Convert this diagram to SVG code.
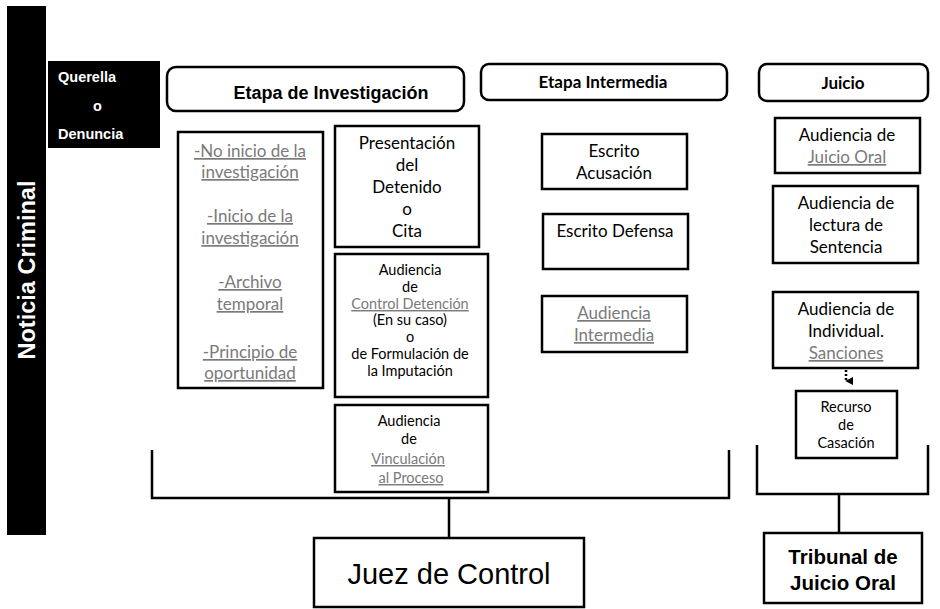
<svg xmlns="http://www.w3.org/2000/svg" width="940" height="609" viewBox="0 0 940 609">
<style>
.box{fill:#fff;stroke:#000;stroke-width:2.5}
.hdr{fill:#fff;stroke:#000;stroke-width:2.5}
.blk{fill:#000}
.t{font-family:Lato,"Open Sans","Liberation Sans",sans-serif;font-size:17px;fill:#000;text-anchor:middle}
.s{font-size:14.5px}
.g{fill:#7a7a7a;text-decoration:underline}
.b{font-family:"Liberation Sans",Arial,sans-serif;font-weight:bold;fill:#000;text-anchor:middle}
.w{fill:#fff;text-anchor:start}
.hb{font-family:Lato,"Open Sans","Liberation Sans",sans-serif;font-weight:bold;font-size:17px;fill:#000;text-anchor:middle}
.c{fill:none;stroke:#000;stroke-width:2.5}
</style>
<defs>
<marker id="ah" viewBox="0 0 10 10" refX="5" refY="9" markerWidth="8" markerHeight="8" markerUnits="userSpaceOnUse" orient="auto-start-reverse">
<path d="M0,0 L10,0 L5,10 Z" fill="#000"/>
</marker>
</defs>
<rect width="940" height="609" fill="#fff"/>

<g id="noticia-criminal">
<rect class="blk" x="7" y="6" width="39" height="529"/>
<text class="b" x="26" y="270" font-size="23.5" style="fill:#fff" transform="rotate(-90 26 270)" dy="8.5">Noticia Criminal</text>
</g>

<g id="querella">
<rect class="blk" x="48" y="61" width="112" height="87"/>
<text class="b w" x="58" y="82" font-size="14.5">Querella</text>
<text class="b w" x="93" y="111" font-size="14.5">o</text>
<text class="b w" x="58" y="139" font-size="14.5">Denuncia</text>
</g>

<g id="etapa-investigacion">
<rect class="hdr" x="167" y="67" width="297" height="44" rx="9"/>
<text class="b" x="331" y="99" font-size="18">Etapa de Investigación</text>
</g>

<g id="etapa-intermedia">
<rect class="hdr" x="481" y="64" width="246" height="36" rx="8"/>
<text class="hb" x="603" y="88">Etapa Intermedia</text>
</g>

<g id="juicio">
<rect class="hdr" x="759" y="64" width="169" height="37" rx="8"/>
<text class="hb" x="843" y="89">Juicio</text>
</g>

<g id="opciones">
<rect class="box" x="178" y="132" width="145" height="256"/>
<text class="t g" x="250" y="157">-No inicio de la</text>
<text class="t g" x="250" y="178">investigación</text>
<text class="t g" x="250" y="222">-Inicio de la</text>
<text class="t g" x="250" y="244">investigación</text>
<text class="t g" x="250" y="288">-Archivo</text>
<text class="t g" x="250" y="310">temporal</text>
<text class="t g" x="250" y="358">-Principio de</text>
<text class="t g" x="250" y="379">oportunidad</text>
</g>

<g id="presentacion">
<rect class="box" x="335" y="126" width="144" height="121"/>
<text class="t" x="407" y="149">Presentación</text>
<text class="t" x="407" y="171">del</text>
<text class="t" x="407" y="193">Detenido</text>
<text class="t" x="407" y="215">o</text>
<text class="t" x="407" y="237">Cita</text>
</g>

<g id="audiencia-control">
<rect class="box" x="335" y="254" width="153" height="143"/>
<text class="t s" x="410" y="275">Audiencia</text>
<text class="t s" x="410" y="292">de</text>
<text class="t s g" x="410" y="309">Control Detención</text>
<text class="t s" x="410" y="325">(En su caso)</text>
<text class="t s" x="410" y="342">o</text>
<text class="t s" x="410" y="359">de Formulación de</text>
<text class="t s" x="410" y="376">la Imputación</text>
</g>

<g id="audiencia-vinculacion">
<rect class="box" x="335" y="405" width="153" height="87"/>
<text class="t s" x="409" y="426">Audiencia</text>
<text class="t s" x="409" y="444">de</text>
<text class="t s g" x="408" y="464">Vinculación</text>
<text class="t s g" x="411" y="483">al Proceso</text>
</g>

<g id="escrito-acusacion">
<rect class="box" x="542" y="134" width="145" height="55"/>
<text class="t" x="614" y="157">Escrito</text>
<text class="t" x="614" y="179">Acusación</text>
</g>

<g id="escrito-defensa">
<rect class="box" x="543" y="214" width="145" height="55"/>
<text class="t" x="615" y="237">Escrito Defensa</text>
</g>

<g id="audiencia-intermedia">
<rect class="box" x="542" y="296" width="145" height="56"/>
<text class="t g" x="614" y="319">Audiencia</text>
<text class="t g" x="614" y="341">Intermedia</text>
</g>

<g id="audiencia-juicio-oral">
<rect class="box" x="775" y="118" width="145" height="55"/>
<text class="t" x="847" y="141">Audiencia de</text>
<text class="t g" x="847" y="163">Juicio Oral</text>
</g>

<g id="audiencia-sentencia">
<rect class="box" x="773" y="186" width="145" height="77"/>
<text class="t" x="846" y="209">Audiencia de</text>
<text class="t" x="846" y="231">lectura de</text>
<text class="t" x="846" y="253">Sentencia</text>
</g>

<g id="audiencia-sanciones">
<rect class="box" x="773" y="292" width="145" height="76"/>
<text class="t" x="846" y="315">Audiencia de</text>
<text class="t" x="846" y="337">Individual.</text>
<text class="t g" x="846" y="359">Sanciones</text>
</g>

<g id="recurso-casacion">
<rect class="box" x="796" y="391" width="101" height="67"/>
<text class="t s" x="846" y="412">Recurso</text>
<text class="t s" x="846" y="430">de</text>
<text class="t s" x="846" y="448">Casación</text>
</g>

<g id="juez-control">
<rect class="box" x="314" y="538" width="270" height="69"/>
<text x="449" y="584" font-family="Liberation Sans,Arial,sans-serif" font-size="29" text-anchor="middle" fill="#000">Juez de Control</text>
</g>

<g id="tribunal-juicio-oral">
<rect class="box" x="764" y="533" width="158" height="70"/>
<text class="b" x="843" y="564" font-size="20.5">Tribunal de</text>
<text class="b" x="843" y="590" font-size="20.5">Juicio Oral</text>
</g>

<g id="connectors">
<path class="c" d="M152,450 V498 H729 V450"/>
<path class="c" d="M449,498 V538"/>
<path class="c" d="M757,445 V494 H928 V445"/>
<path class="c" d="M839,494 V533"/>
<path d="M846,370 V381" fill="none" stroke="#000" stroke-width="2.5" stroke-dasharray="2,2" marker-end="url(#ah)"/>
</g>
</svg>
